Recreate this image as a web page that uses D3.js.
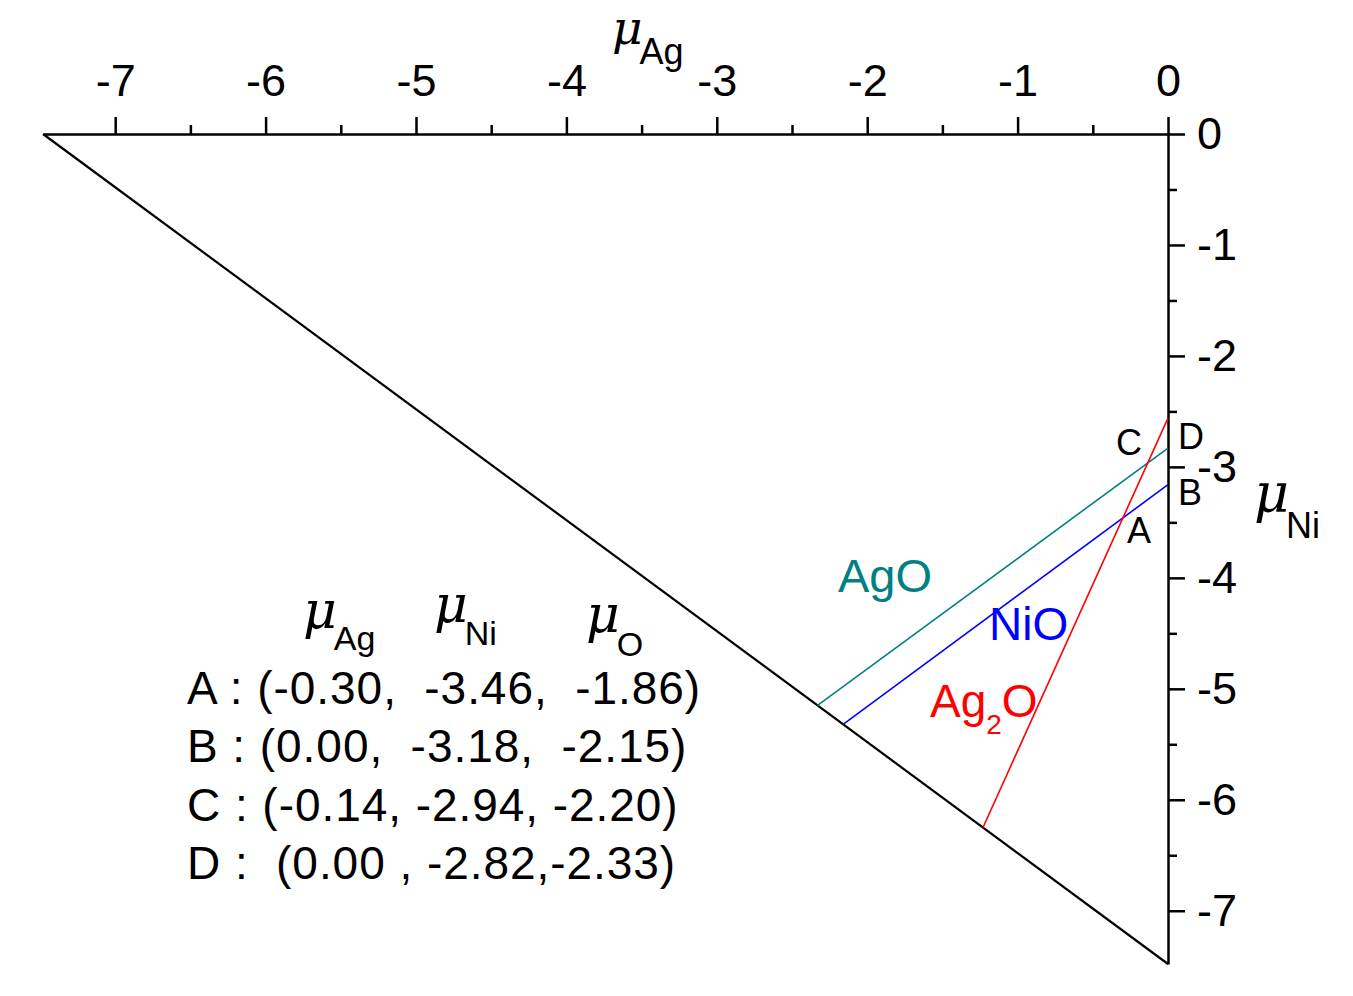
<!DOCTYPE html>
<html>
<head>
<meta charset="utf-8">
<script src="https://cdn.jsdelivr.net/npm/d3@7/dist/d3.min.js"></script>
<style>
  html, body { margin: 0; padding: 0; background: #fff; }
  svg text { font-family: "Liberation Sans", Arial, sans-serif; white-space: pre; }
</style>
</head>
<body>
<svg id="chart" width="1353" height="996"></svg>
<script>
// ---- data ----
const xMajorTicks = [-7, -6, -5, -4, -3, -2, -1, 0];
const xMinorTicks = [-6.5, -5.5, -4.5, -3.5, -2.5, -1.5, -0.5];
const yMajorTicks = [0, -1, -2, -3, -4, -5, -6, -7];
const yMinorTicks = [-0.5, -1.5, -2.5, -3.5, -4.5, -5.5, -6.5];
const domainMin = -7.48;

// triangle hypotenuse (muAg, muNi)
const boundaryAg = [-7.48, 0];
const boundaryNi = [0, -7.48];

// phase boundary lines
const phaseNames = ["AgO", "NiO", "Ag2O"];
const phaseColors = ["#008080", "#0000ff", "#ff0000"];
const phaseAg = [[0, -2.33], [0, -2.16], [0, -1.23]];
const phaseNi = [[-2.83, -5.15], [-3.16, -5.32], [-2.56, -6.25]];

// point labels
const pointNames = ["C", "D", "B", "A"];

// table rows
const tableRows = [
  "A : (-0.30,  -3.46,  -1.86)",
  "B : (0.00,  -3.18,  -2.15)",
  "C : (-0.14, -2.94, -2.20)",
  "D :  (0.00 , -2.82,-2.33)"
];

// ---- chart ----
const svg = d3.select("#chart");
const x = d3.scaleLinear().domain([domainMin, 0]).range([43, 1168]);
const y = d3.scaleLinear().domain([0, domainMin]).range([134, 964]);

const axW = 2.5;
const fmt = d => String(d);

// top axis
const gx = svg.append("g").attr("transform", `translate(0,${y(0)})`);
gx.call(d3.axisTop(x).tickValues(xMajorTicks).tickSize(17).tickSizeOuter(0).tickPadding(21).tickFormat(fmt));
const gxm = svg.append("g").attr("transform", `translate(0,${y(0)})`);
gxm.call(d3.axisTop(x).tickValues(xMinorTicks).tickSize(9).tickSizeOuter(0).tickFormat(""));
gxm.select(".domain").remove();

// right axis
const gy = svg.append("g").attr("transform", `translate(${x(0)},0)`);
gy.call(d3.axisRight(y).tickValues(yMajorTicks).tickSize(17).tickSizeOuter(0).tickPadding(12).tickFormat(fmt));
const gym = svg.append("g").attr("transform", `translate(${x(0)},0)`);
gym.call(d3.axisRight(y).tickValues(yMinorTicks).tickSize(9).tickSizeOuter(0).tickFormat(""));
gym.select(".domain").remove();

svg.selectAll(".domain, .tick line").attr("stroke", "#000").attr("stroke-width", axW);
svg.selectAll(".tick text")
  .attr("fill", "#000")
  .style("font-size", "45px")
  .style("font-family", "'Liberation Sans', Arial, sans-serif");

// hypotenuse
const line = d3.line().x(d => x(d[0])).y(d => y(d[1]));
svg.append("path")
  .attr("d", line(d3.zip(boundaryAg, boundaryNi)))
  .attr("fill", "none").attr("stroke", "#000").attr("stroke-width", 2.2);

// phase lines
phaseNames.forEach((n, i) => {
  svg.append("path")
    .attr("d", line(d3.zip(phaseAg[i], phaseNi[i])))
    .attr("fill", "none").attr("stroke", phaseColors[i]).attr("stroke-width", 1.6);
});

// phase labels
svg.append("text").attr("x", 838).attr("y", 592).attr("fill", phaseColors[0])
  .style("font-size", "47px").text("AgO");
svg.append("text").attr("x", 989).attr("y", 640).attr("fill", phaseColors[1])
  .style("font-size", "46px").text("NiO");
const ag2o = svg.append("text").attr("x", 930).attr("y", 717).attr("fill", phaseColors[2])
  .style("font-size", "46px");
ag2o.append("tspan").text("Ag");
ag2o.append("tspan").attr("dy", 17).style("font-size", "28px").text("2");
ag2o.append("tspan").attr("dy", -17).text("O");

// point labels
const pointPos = [[1116, 455], [1178, 449], [1178, 505], [1127, 543]];
pointNames.forEach((p, i) => {
  svg.append("text").attr("x", pointPos[i][0]).attr("y", pointPos[i][1])
    .attr("fill", "#000").style("font-size", "36px").text(p);
});

// axis titles (mu with subscript)
function muLabel(xp, yp, sub, muSize, subSize, subDy) {
  const t = svg.append("text").attr("x", xp).attr("y", yp).attr("fill", "#000");
  t.append("tspan").style("font-family", "'DejaVu Serif', 'Liberation Serif', serif")
    .style("font-style", "italic").style("font-size", muSize + "px").text("μ");
  t.append("tspan").attr("dy", subDy).attr("dx", -3).style("font-size", subSize + "px").text(sub);
  return t;
}
muLabel(612, 44, "Ag", 47, 36, 20);
muLabel(1254, 512, "Ni", 54, 36, 26);

// table header
muLabel(303, 628, "Ag", 52, 34, 22);
muLabel(434, 622, "Ni", 52, 34, 23);
muLabel(586, 632, "O", 52, 34, 24);

// table rows
tableRows.forEach((r, i) => {
  svg.append("text").attr("x", 187).attr("y", 704 + i * 58.4)
    .attr("fill", "#000").style("font-size", "46px").style("letter-spacing", "0.95px").text(r);
});
</script>
</body>
</html>
